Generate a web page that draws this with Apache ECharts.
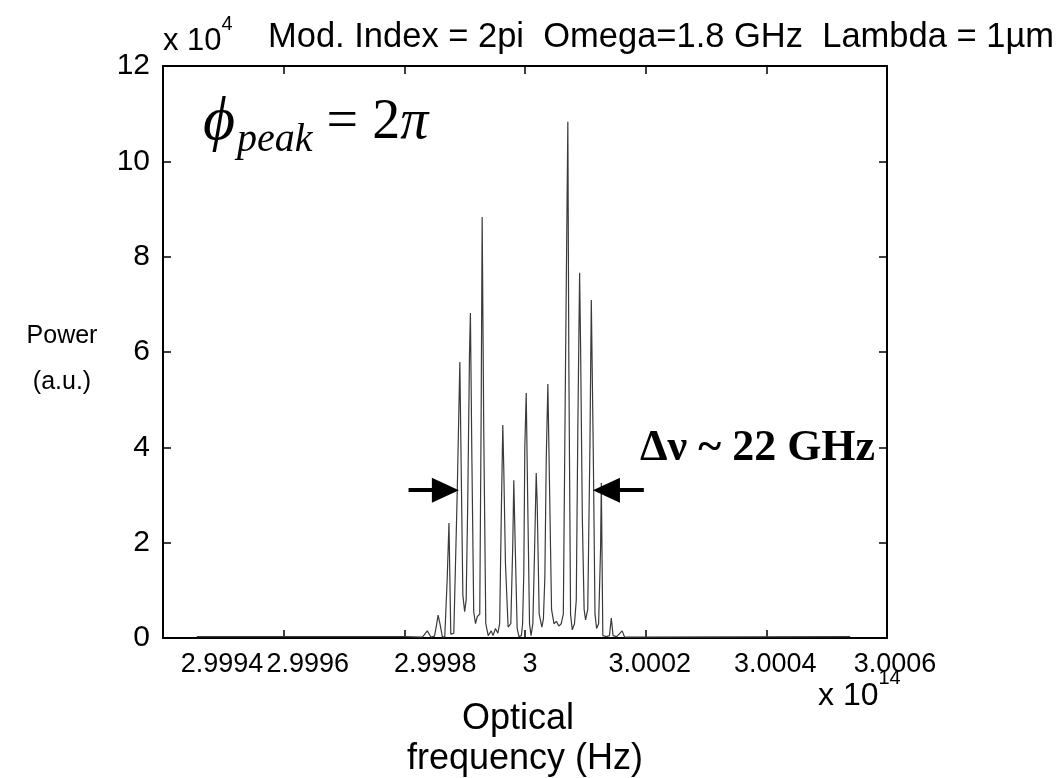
<!DOCTYPE html>
<html>
<head>
<meta charset="utf-8">
<script src="https://cdn.jsdelivr.net/npm/echarts@6/dist/echarts.min.js"></script>
<style>
  html, body { margin: 0; padding: 0; background: #fff; }
  #chart { width: 1058px; height: 778px; }
</style>
</head>
<body>
<div id="chart"></div>
<script>
// frequency offset from 3e14 Hz, in GHz
const freqGHz = [
  -54.4, -20.0, -17.0, -16.2, -15.6, -15.0, -14.7, -14.4, -14.1, -13.7,
  -13.3, -12.9, -12.6, -12.3, -11.8, -11.25, -10.8, -10.56, -10.3, -10.0,
  -9.75, -9.5, -9.2, -9.05, -8.8, -8.5, -8.2, -7.9, -7.5, -7.27,
  -7.1, -6.84, -6.5, -6.1, -5.6, -5.3, -4.9, -4.5, -4.2, -3.95,
  -3.68, -3.52, -3.24, -2.8, -2.35, -2.02, -1.86, -1.58, -1.3, -1.0,
  -0.6, -0.4, -0.2, -0.03, 0.2, 0.47, 0.75, 1.0, 1.3, 1.58,
  1.86, 2.02, 2.35, 2.8, 3.05, 3.29, 3.52, 3.79, 4.07, 4.4,
  4.8, 5.2, 5.6, 6.0, 6.35, 6.72, 7.1, 7.27, 7.55, 7.83,
  8.2, 8.5, 8.76, 9.05, 9.21, 9.5, 9.8, 10.04, 10.4, 10.76,
  10.99, 11.32, 11.6, 11.87, 12.2, 12.53, 12.65, 12.9, 13.5, 14.0,
  14.3, 14.6, 15.2, 16.1, 16.5, 53.9
];
// power, x 10^4 a.u.
const power = [
  0.03, 0.03, 0.02, 0.15, 0.02, 0.04, 0.25, 0.48, 0.30, 0.03,
  0.02, 1.22, 2.41, 0.08, 0.10, 2.96, 5.79, 3.42, 0.90, 0.55,
  0.80, 2.75, 5.97, 6.82, 3.73, 0.55, 0.30, 0.45, 0.50, 4.64,
  8.83, 4.40, 0.30, 0.05, 0.15, 0.05, 0.20, 0.10, 0.30, 2.41,
  4.47, 3.57, 1.57, 0.23, 0.30, 2.00, 3.31, 1.70, 0.20, 0.03,
  0.05, 0.30, 1.36, 4.00, 5.14, 2.69, 0.30, 0.05, 0.30, 1.80,
  3.46, 2.83, 0.50, 0.23, 0.40, 1.27, 3.73, 5.33, 3.15, 0.60,
  0.30, 0.35, 0.25, 0.30, 0.50, 5.79, 10.83, 5.69, 0.50, 0.17,
  0.30, 0.80, 4.43, 7.66, 6.15, 2.54, 0.60, 0.38, 0.60, 4.00,
  7.09, 3.87, 0.50, 0.20, 0.30, 1.90, 3.25, 0.05, 0.03, 0.05,
  0.42, 0.05, 0.03, 0.15, 0.02, 0.03
];
const xTickLabels = ['2.9994', '2.9996', '2.9998', '3', '3.0002', '3.0004', '3.0006'];
const xTickValues = [-60, -40, -20, 0, 20, 40, 60];
// arrow marks for the linewidth, [tail, head] in (GHz, power)
const leftArrow = [[-19.3, 3.1], [-13.2, 3.1]];
const rightArrow = [[19.7, 3.1], [13.5, 3.1]];

// the tick labels in the figure sit a bit right of their ticks
const xLabelShift = [59, 24, 31, 5, 4, 9, 8];

const chart = echarts.init(document.getElementById('chart'));
const sans = 'Liberation Sans, Arial, sans-serif';
const serif = 'Liberation Serif, Times New Roman, serif';

const axisLine = { onZero: false, lineStyle: { color: '#000', width: 2 } };
const axisTick = { inside: true, length: 8, lineStyle: { color: '#000', width: 1.5 } };

const xRich = {};
xLabelShift.forEach((s, i) => {
  xRich['l' + i] = { fontSize: 27, fontFamily: sans, color: '#000', padding: [0, 0, 0, 2 * s] };
});

const option = {
  animation: false,
  backgroundColor: '#fff',
  grid: { left: 163, right: 171, top: 66, bottom: 140 },
  xAxis: [
    {
      type: 'value', min: -60, max: 60, interval: 20,
      axisLine: axisLine, axisTick: axisTick, splitLine: { show: false },
      axisLabel: {
        color: '#000', fontSize: 27, fontFamily: sans, margin: 13,
        hideOverlap: false, showMinLabel: true, showMaxLabel: true,
        formatter: v => {
          const i = xTickValues.indexOf(Math.round(v));
          return '{l' + i + '|' + xTickLabels[i] + '}';
        },
        rich: xRich
      }
    },
    {
      type: 'value', position: 'top', min: -60, max: 60, interval: 20,
      axisLine: axisLine, axisTick: axisTick, axisLabel: { show: false }, splitLine: { show: false }
    }
  ],
  yAxis: [
    {
      type: 'value', min: 0, max: 12, interval: 2,
      axisLine: axisLine, axisTick: axisTick, splitLine: { show: false },
      axisLabel: { color: '#000', fontSize: 30, fontFamily: sans, margin: 13 }
    },
    {
      type: 'value', position: 'right', min: 0, max: 12, interval: 2,
      axisLine: axisLine, axisTick: axisTick, axisLabel: { show: false }, splitLine: { show: false }
    }
  ],
  series: [
    {
      type: 'line',
      showSymbol: false,
      lineStyle: { color: '#3a3a3a', width: 1.2 },
      data: freqGHz.map((f, i) => [f, power[i]]),
      markLine: {
        silent: true,
        symbol: ['none', 'triangle'],
        symbolSize: [25, 27],
        label: { show: false },
        lineStyle: { color: '#000', width: 4, type: 'solid' },
        data: [
          [{ coord: leftArrow[0] }, { coord: leftArrow[1] }],
          [{ coord: rightArrow[0] }, { coord: rightArrow[1] }]
        ]
      }
    }
  ],
  graphic: [
    {
      type: 'text', left: 163, top: 14,
      style: {
        text: '{a|x 10}{b|4}',
        rich: {
          a: { fontSize: 31, fontFamily: sans, fill: '#000', padding: [12, 0, 0, 0] },
          b: { fontSize: 20, fontFamily: sans, fill: '#000', verticalAlign: 'top' }
        }
      }
    },
    {
      type: 'text', left: 268, top: 20,
      style: { text: 'Mod. Index = 2pi  Omega=1.8 GHz  Lambda = 1µm', font: '34.5px ' + sans, fill: '#000' }
    },
    {
      type: 'text', left: 203, top: 92,
      style: {
        text: '{p|ϕ}{s|peak}{e| = 2}{pi|π}',
        rich: {
          p: { fontSize: 62, fontFamily: serif, fontStyle: 'italic', fill: '#000' },
          s: { fontSize: 40, fontFamily: serif, fontStyle: 'italic', fill: '#000', padding: [34, 0, 0, 2] },
          e: { fontSize: 56, fontFamily: serif, fill: '#000' },
          pi: { fontSize: 56, fontFamily: serif, fontStyle: 'italic', fill: '#000' }
        }
      }
    },
    {
      type: 'text', left: 640, top: 427,
      style: { text: 'Δν ~ 22 GHz', font: 'bold 44px ' + serif, fill: '#000' }
    },
    {
      type: 'text', x: 62, y: 336,
      style: { text: 'Power', font: '25px ' + sans, fill: '#000', align: 'center', verticalAlign: 'middle' }
    },
    {
      type: 'text', x: 62, y: 382,
      style: { text: '(a.u.)', font: '25px ' + sans, fill: '#000', align: 'center', verticalAlign: 'middle' }
    },
    {
      type: 'text', x: 518, y: 719,
      style: { text: 'Optical', font: '36px ' + sans, fill: '#000', align: 'center', verticalAlign: 'middle' }
    },
    {
      type: 'text', x: 525, y: 759,
      style: { text: 'frequency (Hz)', font: '36px ' + sans, fill: '#000', align: 'center', verticalAlign: 'middle' }
    },
    {
      type: 'text', left: 818, top: 668,
      style: {
        text: '{a|x 10}{b|14}',
        rich: {
          a: { fontSize: 32, fontFamily: sans, fill: '#000', padding: [12, 0, 0, 0] },
          b: { fontSize: 20, fontFamily: sans, fill: '#000', verticalAlign: 'top' }
        }
      }
    }
  ]
};

chart.setOption(option);
</script>
</body>
</html>
